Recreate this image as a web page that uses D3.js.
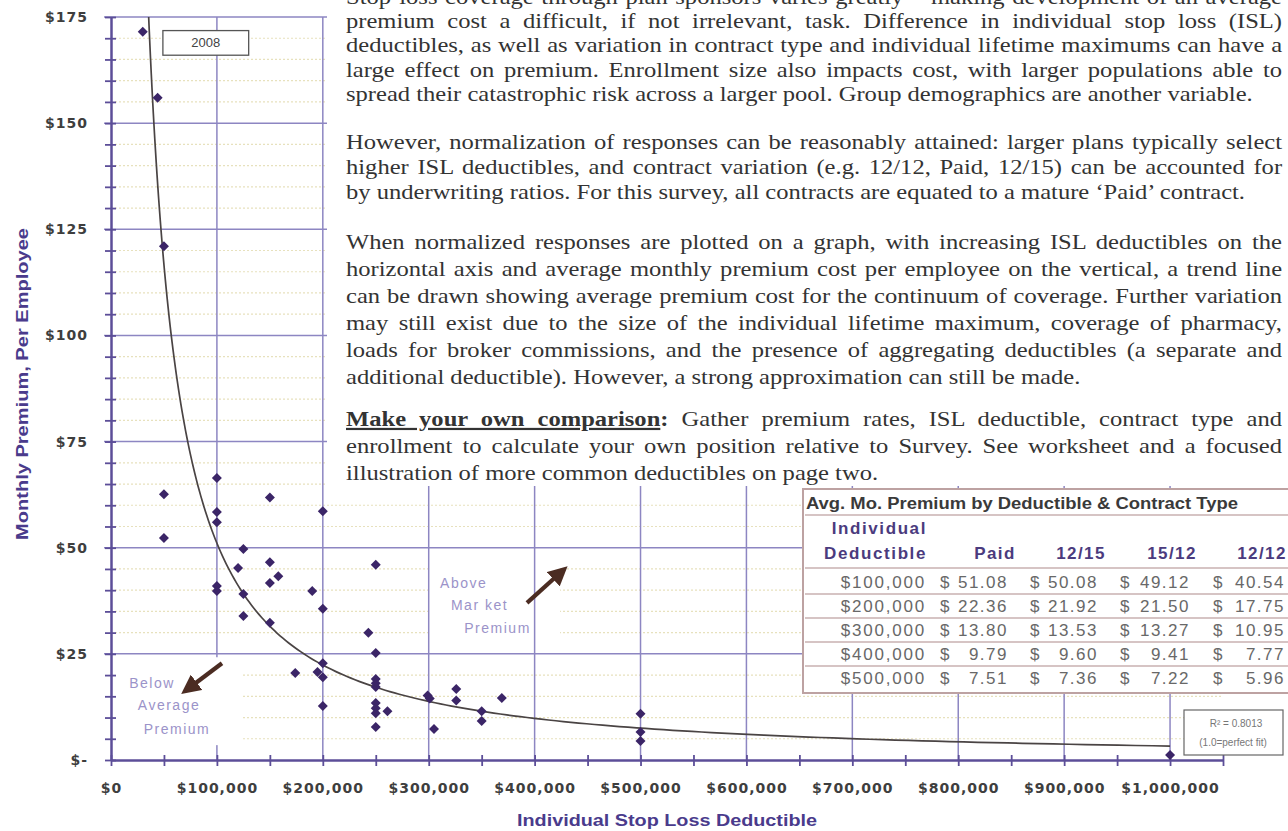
<!DOCTYPE html>
<html>
<head>
<meta charset="utf-8">
<script src="https://cdn.jsdelivr.net/npm/d3@7"></script>
<style>
  body { margin: 0; background: #fff; overflow: hidden; }
  svg { display: block; }
</style>
</head>
<body>
<svg id="chart" width="1288" height="831"></svg>
<script>
// survey responses: ISL deductible vs monthly premium per employee
var deductibles = [30000, 44000, 50000, 50000, 50000, 100000, 100000, 100000, 150000, 200000,
  125000, 120000, 150000, 158000, 150000, 100000, 100000, 125000, 190000, 200000,
  125000, 150000, 174000, 195000, 200000, 200000, 200000, 250000, 243000, 250000,
  250000, 250000, 250000, 250000, 250000, 250000, 261000, 250000, 299000, 301000,
  305000, 326000, 326000, 350000, 350000, 369000, 500000, 500000, 500000, 1000000];
var premiums = [171.5, 156, 121, 62.6, 52.3, 66.4, 58.4, 56, 61.8, 58.6,
  49.7, 45.2, 46.6, 43.3, 41.7, 41, 39.8, 39.1, 39.8, 35.6,
  33.9, 32.3, 20.5, 20.7, 22.8, 19.5, 12.7, 46, 30, 25.2,
  19.1, 18.1, 17.2, 13.4, 12.2, 11, 11.5, 7.8, 15.2, 14.5,
  7.3, 16.7, 14, 11.5, 9.2, 14.6, 10.9, 6.6, 4.5, 1.2];

// table: avg monthly premium by deductible & contract type
var tableDeductibles = [100000, 200000, 300000, 400000, 500000];
var paidRates = [51.08, 22.36, 13.80, 9.79, 7.51];
var rates1215 = [50.08, 21.92, 13.53, 9.60, 7.36];
var rates1512 = [49.12, 21.50, 13.27, 9.41, 7.22];
var rates1212 = [40.54, 17.75, 10.95, 7.77, 5.96];
var contractTypes = ["Paid", "12/15", "15/12", "12/12"];

var yTickValues = [0, 25, 50, 75, 100, 125, 150, 175];
var xTickValues = [0, 100000, 200000, 300000, 400000, 500000, 600000, 700000, 800000, 900000, 1000000];
var rSquared = "0.8013";
var yearLabel = "2008";

var paragraphs = [
  ["Stop-loss coverage through plan sponsors varies greatly \u2013 making development of an average",
   "premium cost a difficult, if not irrelevant, task. Difference in individual stop loss (ISL)",
   "deductibles, as well as variation in contract type and individual lifetime maximums can have a",
   "large effect on premium. Enrollment size also impacts cost, with larger populations able to",
   "spread their catastrophic risk across a larger pool. Group demographics are another variable."],
  ["However, normalization of responses can be reasonably attained: larger plans typically select",
   "higher ISL deductibles, and contract variation (e.g. 12/12, Paid, 12/15) can be accounted for",
   "by underwriting ratios. For this survey, all contracts are equated to a mature \u2018Paid\u2019 contract."],
  ["When normalized responses are plotted on a graph, with increasing ISL deductibles on the",
   "horizontal axis and average monthly premium cost per employee on the vertical, a trend line",
   "can be drawn showing average premium cost for the continuum of coverage. Further variation",
   "may still exist due to the size of the individual lifetime maximum, coverage of pharmacy,",
   "loads for broker commissions, and the presence of aggregating deductibles (a separate and",
   "additional deductible). However, a strong approximation can still be made."],
  ["|Make your own comparison| Gather premium rates, ISL deductible, contract type and",
   "enrollment to calculate your own position relative to Survey. See worksheet and a focused",
   "illustration of more common deductibles on page two."]
];

var svg = d3.select("#chart");
var x = d3.scaleLinear().domain([0, 1050000]).range([111, 1223]);
var y = d3.scaleLinear().domain([0, 175]).range([760, 17]);

var purple = "#5c4e98", gridPurple = "#8d86c2";

// minor gridlines ($5)
svg.append("g").selectAll("line")
  .data(d3.range(5, 175, 5).filter(function(v) { return v % 25; }))
  .join("line")
  .attr("x1", x(0) + 4).attr("x2", x(1050000))
  .attr("y1", function(d) { return y(d); }).attr("y2", function(d) { return y(d); })
  .attr("stroke", "#e7e1bd").attr("stroke-width", 1.2).attr("stroke-dasharray", "2,2");

// label box "Above Market Premium" hides the minor grid
svg.append("rect")
  .attr("x", x(301000)).attr("y", y(46.6))
  .attr("width", x(424000) - x(301000)).attr("height", y(27.1) - y(46.6))
  .attr("fill", "#fff");

// major gridlines
svg.append("g").selectAll("line")
  .data(yTickValues.filter(function(v) { return v > 0; }))
  .join("line")
  .attr("x1", x(0) - 7).attr("x2", x(1050000))
  .attr("y1", function(d) { return y(d); }).attr("y2", function(d) { return y(d); })
  .attr("stroke", gridPurple).attr("stroke-width", 1.5);
svg.append("g").selectAll("line")
  .data(xTickValues.filter(function(v) { return v > 0; }))
  .join("line")
  .attr("x1", function(d) { return x(d); }).attr("x2", function(d) { return x(d); })
  .attr("y1", y(175)).attr("y2", y(0))
  .attr("stroke", gridPurple).attr("stroke-width", 1.5);

// label box "Below Average Premium"
svg.append("rect")
  .attr("x", x(2000)).attr("y", y(24.2))
  .attr("width", x(124500) - x(2000)).attr("height", y(3.5) - y(24.2))
  .attr("fill", "#fff");

// white text block covering the upper right part of the chart
svg.append("rect").attr("x", 327).attr("y", 0).attr("width", 961).attr("height", 486).attr("fill", "#fff");

// axes
var yAxis = svg.append("g").attr("transform", "translate(" + x(0) + ",0)")
  .call(d3.axisLeft(y).tickValues(d3.range(0, 176, 5)).tickSizeInner(6).tickSizeOuter(0).tickPadding(17)
    .tickFormat(function(v) { return v % 25 ? "" : (v ? "$" + v : "$-"); }));
svg.append("g").attr("transform", "translate(" + x(0) + ",0)")
  .call(d3.axisRight(y).tickValues(d3.range(0, 176, 5)).tickSize(5).tickFormat(""))
  .call(function(g) { g.select(".domain").remove(); });
var xAxis = svg.append("g").attr("transform", "translate(0," + y(0) + ")")
  .call(d3.axisBottom(x).tickValues(d3.range(0, 1050001, 50000)).tickSizeInner(6).tickSizeOuter(0).tickPadding(17)
    .tickFormat(function(v) { return v % 100000 ? "" : (v ? "$" + d3.format(",")(v) : "$0"); }));
svg.append("g").attr("transform", "translate(0," + y(0) + ")")
  .call(d3.axisTop(x).tickValues(d3.range(0, 1050001, 50000)).tickSize(5).tickFormat(""))
  .call(function(g) { g.select(".domain").remove(); });

svg.selectAll(".domain").attr("stroke", purple).attr("stroke-width", 2.5);
svg.selectAll(".tick line").attr("stroke", purple).attr("stroke-width", 1.8);
[yAxis, xAxis].forEach(function(g) {
  g.attr("font-family", "'DejaVu Sans', Verdana, sans-serif").attr("font-size", 14).attr("font-weight", "bold");
  g.selectAll("text").attr("fill", "#3e3e3e").attr("letter-spacing", "1px");
});

// axis titles
svg.append("text").attr("x", 667).attr("y", 826).attr("text-anchor", "middle")
  .attr("font-family", "'Liberation Sans', Arial, sans-serif").attr("font-size", 16).attr("font-weight", "bold")
  .attr("fill", "#4a3b8c").attr("textLength", 300).attr("lengthAdjust", "spacingAndGlyphs")
  .text("Individual Stop Loss Deductible");
svg.append("text").attr("transform", "translate(28,384) rotate(-90)").attr("text-anchor", "middle")
  .attr("font-family", "'Liberation Sans', Arial, sans-serif").attr("font-size", 17).attr("font-weight", "bold")
  .attr("fill", "#4a3b8c").attr("textLength", 312).attr("lengthAdjust", "spacingAndGlyphs")
  .text("Monthly Premium, Per Employee");

// trend line: power fit of the table's Paid column (Excel-style log-log regression)
var lx = tableDeductibles.map(Math.log), ly = paidRates.map(Math.log);
var mx = d3.mean(lx), my = d3.mean(ly);
var b = d3.sum(lx, function(v, i) { return (v - mx) * (ly[i] - my); }) / d3.sum(lx, function(v) { return (v - mx) * (v - mx); });
var a = Math.exp(my - b * mx);
var xStart = Math.pow(175 / a, 1 / b);
var trendX = d3.range(0, 201).map(function(i) { return xStart * Math.pow(1000000 / xStart, i / 200); });
svg.append("path")
  .attr("d", d3.line().x(function(d) { return x(d); }).y(function(d) { return y(a * Math.pow(d, b)); })(trendX))
  .attr("fill", "none").attr("stroke", "#4a4444").attr("stroke-width", 1.7);

// survey points
svg.append("g").selectAll("path")
  .data(deductibles)
  .join("path")
  .attr("transform", function(d, i) { return "translate(" + x(d) + "," + y(premiums[i]) + ") rotate(45)"; })
  .attr("d", d3.symbol(d3.symbolSquare, 50))
  .attr("fill", "#3b2567");

// year label
var yearBox = svg.append("g");
yearBox.append("rect").attr("x", x(49000)).attr("y", y(171.8)).attr("width", x(130000) - x(49000)).attr("height", y(166) - y(171.8))
  .attr("fill", "#fff").attr("stroke", "#555").attr("stroke-width", 1.3);
yearBox.append("text").attr("x", x(89500)).attr("y", y(168.9) + 4.5).attr("text-anchor", "middle")
  .attr("font-family", "'Liberation Sans', Arial, sans-serif").attr("font-size", 13).attr("fill", "#444")
  .text(yearLabel);

// annotations
var defs = svg.append("defs");
defs.append("marker").attr("id", "head").attr("viewBox", "0 0 10 10").attr("refX", 4).attr("refY", 5)
  .attr("markerWidth", 4.6).attr("markerHeight", 4.6).attr("orient", "auto")
  .append("path").attr("d", "M0,0L10,5L0,10Z").attr("fill", "#4b2c22");
function arrow(x0, y0, x1, y1) {
  svg.append("line").attr("x1", x(x0)).attr("y1", y(y0)).attr("x2", x(x1)).attr("y2", y(y1))
    .attr("stroke", "#4b2c22").attr("stroke-width", 4.2).attr("marker-end", "url(#head)");
}
arrow(104800, 22.8, 75000, 17.2);
arrow(392800, 37, 423000, 43.8);
function note(lines, xs, ys) {
  lines.forEach(function(t, i) {
    svg.append("text").attr("x", x(xs[i])).attr("y", y(ys[i]) + 5).attr("text-anchor", "middle")
      .attr("font-family", "'Liberation Sans', Arial, sans-serif").attr("font-size", 14)
      .attr("letter-spacing", "1.5px").attr("fill", "#9b93c9").text(t);
  });
}
note(["Below", "Average", "Premium"], [38700, 54800, 62300], [18.1, 13, 7.3]);
note(["Above", "Mar ket", "Premium"], [333000, 348000, 365000], [41.7, 36.5, 31.1]);

// R squared box
var rBox = svg.append("g");
rBox.append("rect").attr("x", 1184).attr("y", 710).attr("width", 99).attr("height", 45)
  .attr("fill", "#fff").attr("stroke", "#666").attr("stroke-width", 1.2);
rBox.append("text").attr("x", 1236).attr("y", 727).attr("text-anchor", "middle")
  .attr("font-family", "'Liberation Sans', Arial, sans-serif").attr("font-size", 10).attr("fill", "#777")
  .text("R\u00b2 = " + rSquared);
rBox.append("text").attr("x", 1233).attr("y", 746).attr("text-anchor", "middle")
  .attr("font-family", "'Liberation Sans', Arial, sans-serif").attr("font-size", 10).attr("fill", "#777")
  .text("(1.0=perfect fit)");

// table
var tg = svg.append("g").attr("font-family", "'Liberation Sans', Arial, sans-serif");
var rowY = function(i) { return 582 + i * 24; };
tg.append("rect").attr("x", 803).attr("y", 489).attr("width", 500).attr("height", 204)
  .attr("fill", "#fff").attr("stroke", "#bda2a2").attr("stroke-width", 2);
tg.selectAll("line.sep").data([515, 568].concat(tableDeductibles.slice(0, -1).map(function(d, i) { return rowY(i) + 12; })))
  .join("line").attr("x1", 805).attr("x2", 1288).attr("y1", function(d) { return d; }).attr("y2", function(d) { return d; })
  .attr("stroke", "#c8b0b0").attr("stroke-width", 1.4);
tg.append("text").attr("x", 806).attr("y", 509).attr("font-size", 16).attr("font-weight", "bold").attr("fill", "#3a3a3a")
  .attr("textLength", 432).attr("lengthAdjust", "spacingAndGlyphs")
  .text("Avg. Mo. Premium by Deductible & Contract Type");
var headPurple = "#4b3b7e";
tg.append("text").attr("x", 927).attr("y", 534).attr("text-anchor", "end").attr("font-size", 17).attr("font-weight", "bold")
  .attr("fill", headPurple).attr("letter-spacing", "1.6px").text("Individual");
tg.append("text").attr("x", 927).attr("y", 559).attr("text-anchor", "end").attr("font-size", 17).attr("font-weight", "bold")
  .attr("fill", headPurple).attr("letter-spacing", "1.6px").text("Deductible");
var colCenter = [995, 1081, 1172, 1262], colDollar = [940, 1030, 1120, 1213], colEnd = [1008, 1098, 1190, 1285];
contractTypes.forEach(function(c, j) {
  tg.append("text").attr("x", colCenter[j]).attr("y", 559).attr("text-anchor", "middle").attr("font-size", 17)
    .attr("font-weight", "bold").attr("fill", headPurple).attr("letter-spacing", "1.4px").text(c);
});
var cols = [paidRates, rates1215, rates1512, rates1212];
tableDeductibles.forEach(function(d, i) {
  tg.append("text").attr("x", 926).attr("y", rowY(i) + 6).attr("text-anchor", "end").attr("font-size", 17)
    .attr("fill", "#686868").attr("letter-spacing", "1.8px").text("$" + d3.format(",")(d));
  cols.forEach(function(col, j) {
    tg.append("text").attr("x", colDollar[j]).attr("y", rowY(i) + 6).attr("font-size", 17)
      .attr("fill", "#686868").text("$");
    tg.append("text").attr("x", colEnd[j]).attr("y", rowY(i) + 6).attr("text-anchor", "end").attr("font-size", 17)
      .attr("fill", "#686868").attr("letter-spacing", "1.5px").text(d3.format(".2f")(col[i]));
  });
});

// body text, justified line by line through word spacing (scan is slightly widened)
var paraTop = [-2.5, 143, 243, 420], paraStep = [24.5, 25, 27, 27];
var stretch = 1.117, textWidth = 936 / stretch;
var tb = svg.append("g").attr("transform", "translate(346,0) scale(" + stretch + ",1)")
  .attr("font-family", "'Liberation Serif', 'Times New Roman', serif")
  .attr("font-size", 22).attr("fill", "#333");
paragraphs.forEach(function(lines, p) {
  lines.forEach(function(line, k) {
    var t = tb.append("text").attr("x", 0).attr("y", paraTop[p] + k * paraStep[p] + 6);
    var parts = line.split("|");
    if (parts.length === 3) {
      t.append("tspan").attr("font-weight", "bold").attr("text-decoration", "underline").text(parts[1]);
      t.append("tspan").attr("font-weight", "bold").text(":");
      t.append("tspan").text(parts[2]);
    } else {
      t.text(line);
    }
    if (k < lines.length - 1) {
      var natural = t.node().getComputedTextLength();
      var gaps = line.split(" ").length - 1;
      t.attr("word-spacing", ((textWidth - natural) / gaps).toFixed(2) + "px");
    }
  });
});
</script>
</body>
</html>
